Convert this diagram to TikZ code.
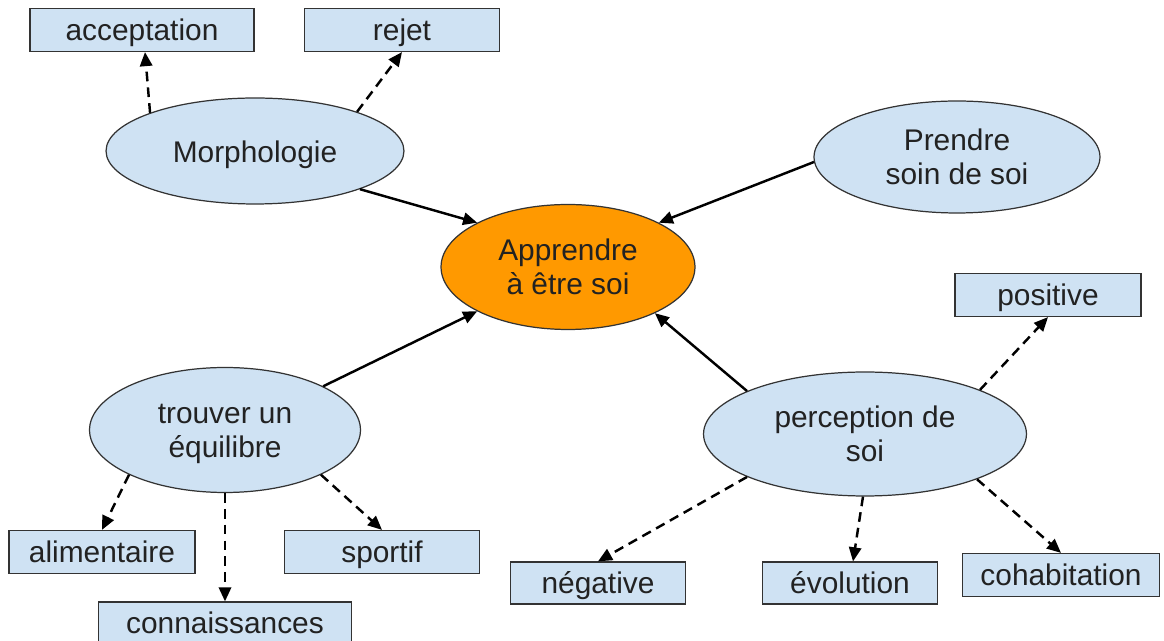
\documentclass[tikz,border=0pt]{standalone}
\usepackage{fontspec}
\setmainfont{Liberation Sans}
\usetikzlibrary{shapes.geometric,arrows.meta}
\definecolor{lblue}{HTML}{CFE2F3}
\definecolor{orng}{HTML}{FF9900}
\definecolor{bord}{HTML}{333333}
\definecolor{txt}{HTML}{222222}
\newcommand{\dn}[1]{\raisebox{-0.08cm}[\height][\depth]{#1}}
\newcommand{\twoln}[2]{\dn{\begin{tabular}{@{}c@{}}#1\\#2\end{tabular}}}
\tikzset{
  base/.style={font=\fontsize{17}{19.5}\selectfont, text=txt, align=center, inner sep=0pt, draw=bord, line width=0.7pt},
  bubble/.style={base, ellipse, fill=lblue},
  core/.style={base, ellipse, fill=orng},
  leaf/.style={base, rectangle, fill=lblue, minimum height=0.86cm, text height=0.42cm, text depth=0cm},
  link/.style={line width=1.4pt, black, -{Triangle[length=8pt,width=7pt]}},
  sublink/.style={link, dash pattern=on 5.5pt off 3.5pt},
}
\begin{document}
\begin{tikzpicture}[x=0.02cm, y=-0.02cm]
\clip (0,0) rectangle (1164,641);
\fill[white] (0,0) rectangle (1164,641);
% central
\node[core, minimum width=5.08cm, minimum height=2.5cm] (core) at (568,267) {\twoln{Apprendre}{à être soi}};
% bubbles
\node[bubble, minimum width=5.96cm, minimum height=2.12cm] (morph) at (255,151) {\dn{Morphologie}};
\node[bubble, minimum width=5.72cm, minimum height=2.24cm] (soin) at (957,157) {\twoln{Prendre}{soin de soi}};
\node[bubble, minimum width=5.42cm, minimum height=2.5cm] (equi) at (225,430) {\twoln{trouver un}{équilibre}};
\node[bubble, minimum width=6.46cm, minimum height=2.48cm] (perc) at (865,434) {\twoln{perception de}{soi}};
% leaves
\node[leaf, minimum width=4.48cm] (acc) at (142,30) {acceptation};
\node[leaf, minimum width=3.9cm] (rej) at (402,30) {rejet};
\node[leaf, minimum width=3.72cm] (pos) at (1048,295) {positive};
\node[leaf, minimum width=3.72cm] (ali) at (102,552) {alimentaire};
\node[leaf, minimum width=3.9cm] (spo) at (382,552) {sportif};
\node[leaf, minimum width=5.06cm] (con) at (225,623.5) {connaissances};
\node[leaf, minimum width=3.5cm, minimum height=0.84cm] (neg) at (598,583) {négative};
\node[leaf, minimum width=3.5cm, minimum height=0.84cm] (evo) at (850,583) {évolution};
\node[leaf, minimum width=3.94cm] (coh) at (1061,575) {cohabitation};
% main links
\draw[link] (morph.-20) -- (core.154);
\draw[link] (soin.182) -- (core.26);
\draw[link] (equi.24) -- (core.206);
\draw[link] (perc.160) -- (core.332);
% sub links
\draw[sublink] (morph.160) -- ([xshift=0.06cm]acc.south);
\draw[sublink] (morph.21) -- (rej.south);
\draw[sublink] (perc.21) -- (pos.south);
\draw[sublink] (perc.200) -- (neg.north);
\draw[sublink] ([xshift=-0.04cm]perc.south) -- ([xshift=0.06cm]evo.north);
\draw[sublink] (perc.338) -- (coh.north);
\draw[sublink] (equi.205) -- (ali.north);
\draw[sublink] (equi.south) -- (con.north);
\draw[sublink] (equi.335) -- (spo.north);
\end{tikzpicture}
\end{document}
